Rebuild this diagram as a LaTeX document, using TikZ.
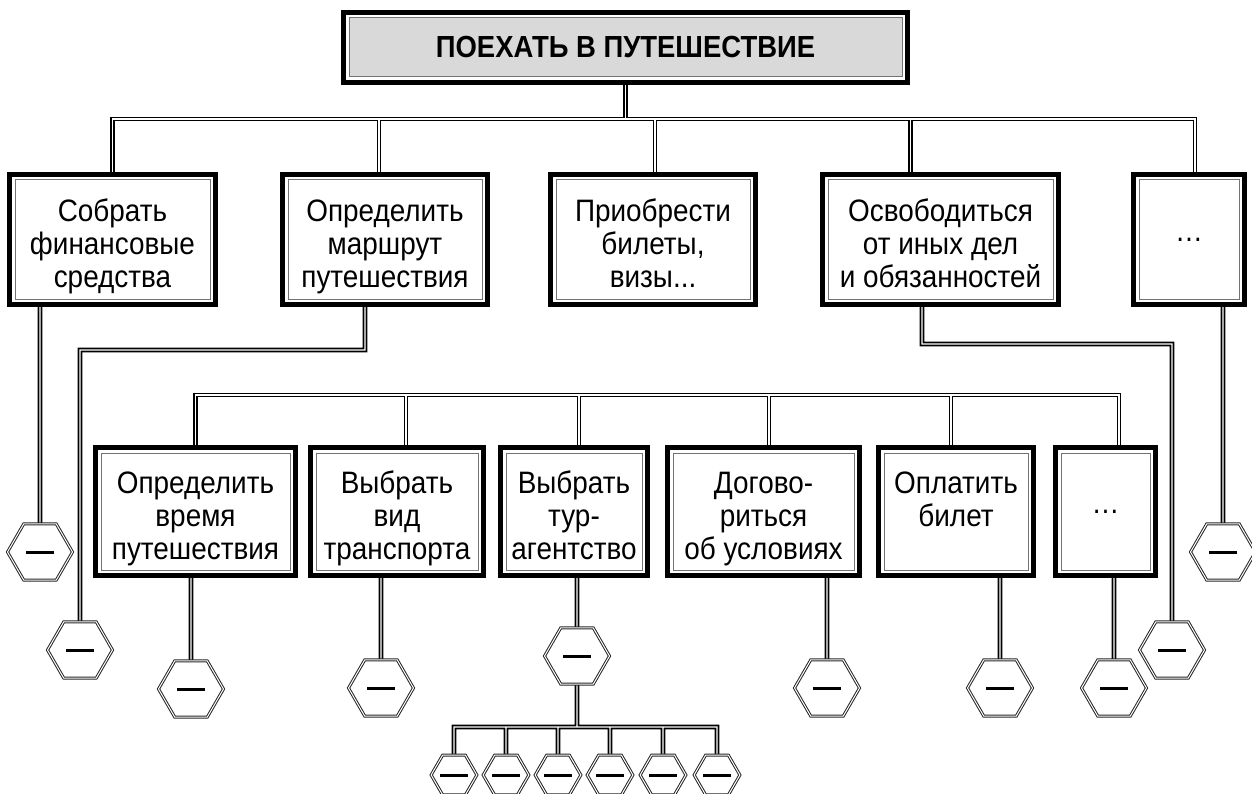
\documentclass[tikz,border=0pt]{standalone}
\usepackage{fontspec}
\setmainfont{Liberation Sans}[FakeStretch=0.9]
\usetikzlibrary{shapes.geometric, backgrounds}

\newcommand{\hexbar}{\rule[-1.5pt]{28pt}{3pt}}
\newcommand{\topline}{\rule{0pt}{38pt}}
\newcommand{\botline}{\rule[-8pt]{0pt}{8pt}}

\begin{document}
\begin{tikzpicture}[
  x=1pt, y=-1pt,
  every node/.style={align=center, font=\fontsize{31}{33}\selectfont, inner sep=0pt},
  task/.style={draw, line width=5pt, fill=white, path picture={\draw[line width=1pt, black!55, fill=#1] ([shift={(5.5pt,5.5pt)}]path picture bounding box.south west) rectangle ([shift={(-5.5pt,-5.5pt)}]path picture bounding box.north east);}},
  task/.default=white,
  stop/.style={regular polygon, regular polygon sides=6, draw=black!85, line width=1pt, double=white, double distance=1pt, fill=white, minimum size=65pt},
  substop/.style={stop, minimum size=43pt},
  link/.style={draw, line width=1.6pt, double=white, double distance=1.4pt}
]
\useasboundingbox (0,0) rectangle (1252,794);

\node[task=black!15, minimum width=564, minimum height=70, font=\fontsize{30.5}{33}\selectfont\bfseries] (TRIP) at (625.5,47.5) {ПОЕХАТЬ В ПУТЕШЕСТВИЕ};

\node[task, minimum width=206, minimum height=130] (FIN) at (112.5,239.5) {\topline Собрать\\финансовые\\средства\botline};
\node[task, minimum width=205, minimum height=130] (ROUTE) at (385,239.5) {\topline Определить\\маршрут\\путешествия\botline};
\node[task, minimum width=205, minimum height=130] (TICK) at (653,239.5) {\topline Приобрести\\билеты,\\визы...\botline};
\node[task, minimum width=236, minimum height=130] (FREE) at (940.5,239.5) {\topline Освободиться\\от иных дел\\и обязанностей\botline};
\node[task, minimum width=111, minimum height=130] (ETCA) at (1189,239.5) {…};

\node[task, minimum width=200, minimum height=128] (TIME) at (195.5,511.5) {\topline Определить\\время\\путешествия\botline};
\node[task, minimum width=173, minimum height=128] (TRANS) at (397,511.5) {\topline Выбрать\\вид\\транспорта\botline};
\node[task, minimum width=147, minimum height=128] (AGENCY) at (574,511.5) {\topline Выбрать\\тур-\\агентство\botline};
\node[task, minimum width=192, minimum height=128] (TERMS) at (763.5,511.5) {\topline Догово-\\риться\\об условиях\botline};
\node[task, minimum width=155, minimum height=128] (PAY) at (956,511.5) {\topline Оплатить\\билет\\\botline};
\node[task, minimum width=100, minimum height=128] (ETCB) at (1105.5,511.5) {…};

\node[stop] (E1) at (40,552) {\hexbar};
\node[stop] (E2) at (80,650) {\hexbar};
\node[stop] (E3) at (191,689) {\hexbar};
\node[stop] (E4) at (381,688) {\hexbar};
\node[stop] (E5) at (577,656) {\hexbar};
\node[stop] (E6) at (827,688) {\hexbar};
\node[stop] (E7) at (1000,688) {\hexbar};
\node[stop] (E8) at (1114,688) {\hexbar};
\node[stop] (E9) at (1172,650) {\hexbar};
\node[stop] (E10) at (1223,552) {\hexbar};

\node[substop] (A1) at (454,775) {\hexbar};
\node[substop] (A2) at (506,775) {\hexbar};
\node[substop] (A3) at (558,775) {\hexbar};
\node[substop] (A4) at (610,775) {\hexbar};
\node[substop] (A5) at (663,775) {\hexbar};
\node[substop] (A6) at (717,775) {\hexbar};

\coordinate (busA) at (0,119);
\coordinate (busB) at (0,395);
\coordinate (busC) at (0,727);
\coordinate (turnR) at (0,350);
\coordinate (turnF) at (0,344);

\begin{pgfonlayer}{background}
\draw[link] (TRIP.south) -- (TRIP.south |- busA)
  (FIN.north) |- ([xshift=6pt]ETCA.north |- busA) -- ([xshift=6pt]ETCA.north)
  ([xshift=-6pt]ROUTE.north) -- ([xshift=-6pt]ROUTE.north |- busA)
  ([xshift=2pt]TICK.north) -- ([xshift=2pt]TICK.north |- busA)
  ([xshift=-30pt]FREE.north) -- ([xshift=-30pt]FREE.north |- busA);
\draw[link] (TIME.north) |- ([xshift=13.5pt]ETCB.north |- busB) -- ([xshift=13.5pt]ETCB.north)
  ([xshift=9pt]TRANS.north) -- ([xshift=9pt]TRANS.north |- busB)
  ([xshift=5pt]AGENCY.north) -- ([xshift=5pt]AGENCY.north |- busB)
  ([xshift=5.5pt]TERMS.north) -- ([xshift=5.5pt]TERMS.north |- busB)
  ([xshift=-5pt]PAY.north) -- ([xshift=-5pt]PAY.north |- busB);
\draw[link] (E1 |- FIN.south) -- (E1.north);
\draw[link] ([xshift=-20pt]ROUTE.south) |- (E2 |- turnR) -- (E2.north);
\draw[link] ([xshift=-18.5pt]FREE.south) |- (E9 |- turnF) -- (E9.north);
\draw[link] (E10 |- ETCA.south) -- (E10.north);
\draw[link] (E3 |- TIME.south) -- (E3.north);
\draw[link] (E4 |- TRANS.south) -- (E4.north);
\draw[link] (E5 |- AGENCY.south) -- (E5.north);
\draw[link] (E6 |- TERMS.south) -- (E6.north);
\draw[link] (E7 |- PAY.south) -- (E7.north);
\draw[link] (E8 |- ETCB.south) -- (E8.north);
\draw[link] (E5.south) -- (E5 |- busC)
  (A1.north) |- (A6 |- busC) -- (A6.north)
  (A2.north) -- (A2 |- busC)
  (A3.north) -- (A3 |- busC)
  (A4.north) -- (A4 |- busC)
  (A5.north) -- (A5 |- busC);
\end{pgfonlayer}
\end{tikzpicture}
\end{document}
